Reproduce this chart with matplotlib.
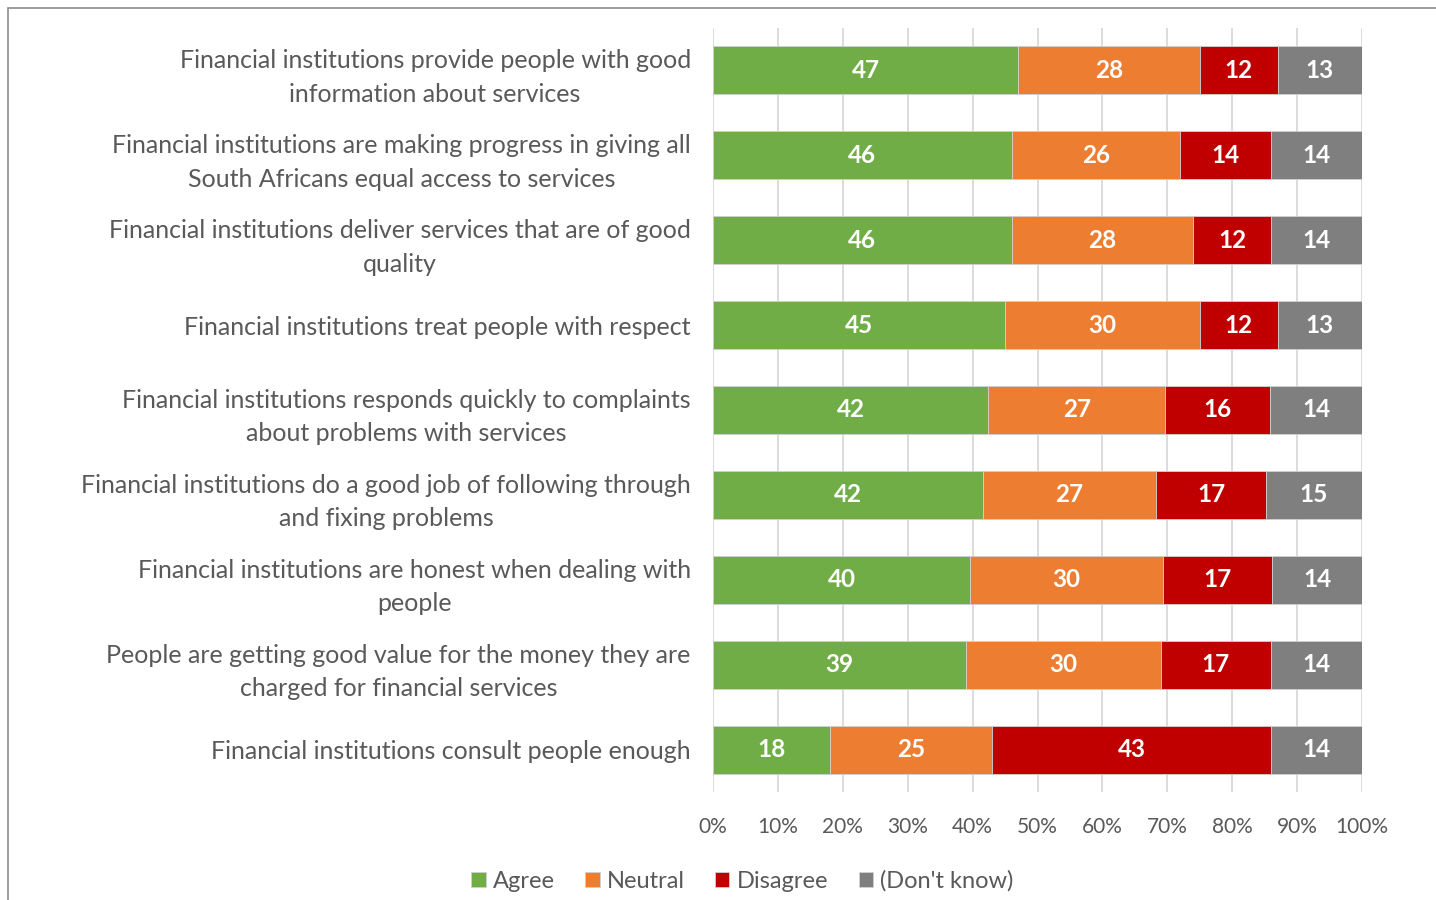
import matplotlib
matplotlib.use("Agg")
import matplotlib.pyplot as plt
import numpy as np
from matplotlib.patches import Rectangle

plt.rcParams['font.family'] = ['Lato', 'DejaVu Sans']

statements = [
    "Financial institutions provide people with good\ninformation about services",
    "Financial institutions are making progress in giving all\nSouth Africans equal access to services",
    "Financial institutions deliver services that are of good\nquality",
    "Financial institutions treat people with respect",
    "Financial institutions responds quickly to complaints\nabout problems with services",
    "Financial institutions do a good job of following through\nand fixing problems",
    "Financial institutions are honest when dealing with\npeople",
    "People are getting good value for the money they are\ncharged for financial services",
    "Financial institutions consult people enough",
]
agree = [47, 46, 46, 45, 42, 42, 40, 39, 18]
neutral = [28, 26, 28, 30, 27, 27, 30, 30, 25]
disagree = [12, 14, 12, 12, 16, 17, 17, 17, 43]
dont_know = [13, 14, 14, 13, 14, 15, 14, 14, 14]

series_names = ["Agree", "Neutral", "Disagree", "(Don't know)"]
colors = ["#70AD47", "#ED7D31", "#C00000", "#7F7F7F"]
text_color = "#595959"

data = np.array([agree, neutral, disagree, dont_know], dtype=float)
shares = data / data.sum(axis=0) * 100

fig = plt.figure(figsize=(14.36, 9.0), dpi=100)
ax = fig.add_axes([0.4965, 0.12, 0.452, 0.849])

# outer frame
fig.patches.append(Rectangle((0.0056, -0.05), 1.2, 1.041, transform=fig.transFigure,
                             fill=False, edgecolor="#8C8C8C", linewidth=1.2, zorder=0))

y = np.arange(len(statements))
left = np.zeros(len(statements))
for k in range(4):
    ax.barh(y, shares[k], left=left, height=0.565, color=colors[k],
            edgecolor="#D0D0D0", linewidth=0.6, label=series_names[k], zorder=3)
    for i in range(len(statements)):
        ax.text(left[i] + shares[k][i] / 2, y[i], f"{int(data[k][i])}",
                ha="center", va="center", color="white", fontsize=17.5,
                fontweight="bold", zorder=4)
    left += shares[k]

ax.set_ylim(len(statements) - 0.5, -0.5)
ax.set_xlim(0, 100)
ax.set_yticks(y)
ax.set_yticklabels(statements, fontsize=18, color=text_color, ha="right",
                   multialignment="center", linespacing=1.55)
ax.tick_params(axis="y", length=0, pad=16)
ax.set_xticks(np.arange(0, 101, 10))
ax.set_xticklabels([f"{v}%" for v in range(0, 101, 10)], fontsize=15, color=text_color)
ax.tick_params(axis="x", length=0, pad=18)
ax.grid(axis="x", color="#D9D9D9", linewidth=1.3, zorder=0)
for s in ax.spines.values():
    s.set_visible(False)

handles, labels = ax.get_legend_handles_labels()
fig.legend(handles, labels, loc="center", bbox_to_anchor=(0.517, 0.021), ncol=4,
           frameon=False, fontsize=17, handlelength=0.6, handleheight=0.6,
           handletextpad=0.3, columnspacing=1.3, labelcolor=text_color)

fig.savefig("out.png", dpi=100)
